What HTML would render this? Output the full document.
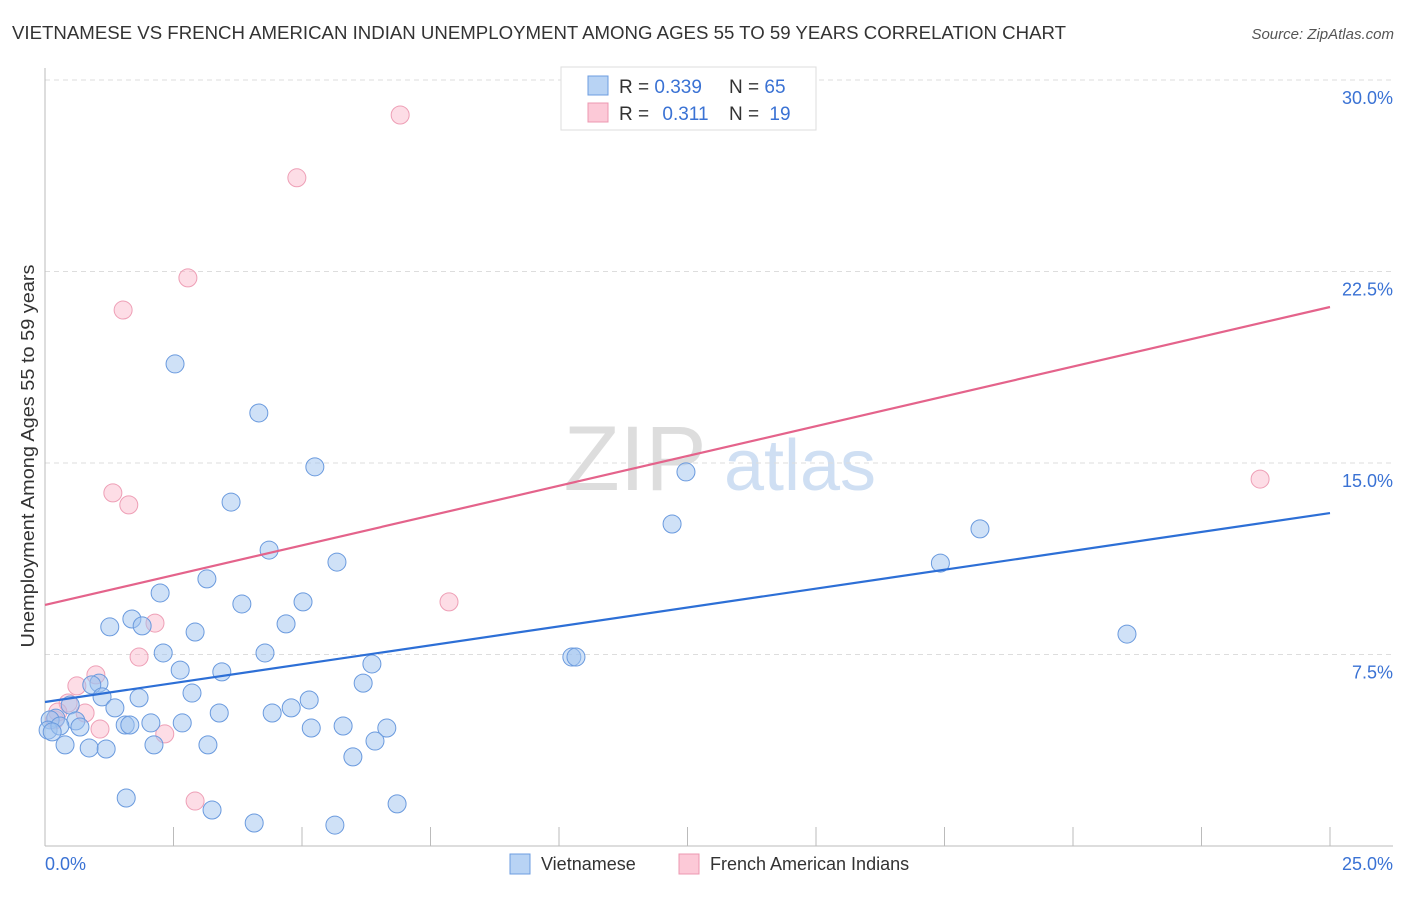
<!DOCTYPE html>
<html><head><meta charset="utf-8"><style>
body{margin:0;background:#fff;font-family:"Liberation Sans",sans-serif;}
svg text{font-family:"Liberation Sans",sans-serif;}
</style></head><body>
<svg id="chart" width="1406" height="892" xmlns="http://www.w3.org/2000/svg">
<text x="12" y="39" font-size="18" fill="#333" textLength="1054" lengthAdjust="spacingAndGlyphs">VIETNAMESE VS FRENCH AMERICAN INDIAN UNEMPLOYMENT AMONG AGES 55 TO 59 YEARS CORRELATION CHART</text>
<text x="1394" y="39" font-size="15" fill="#555" text-anchor="end" font-style="italic">Source: ZipAtlas.com</text>
<text transform="translate(34,456) rotate(-90)" font-size="18" fill="#333" text-anchor="middle" textLength="383" lengthAdjust="spacingAndGlyphs">Unemployment Among Ages 55 to 59 years</text>
<g>
<text x="635" y="490" font-size="92" fill="#ddd" font-family="Liberation Serif" text-anchor="middle">ZIP</text>
<text x="800" y="490" font-size="72" fill="#cfdff3" text-anchor="middle">atlas</text>
</g>
<g id="grid"></g>
<g id="marks"></g>
<g>
<rect x="561" y="67" width="255" height="63" fill="#fff" stroke="#ddd"/>
<rect x="588" y="76" width="20" height="19" fill="#b8d3f4" stroke="#6c9de0"/>
<rect x="588" y="103" width="20" height="19" fill="#fcc9d7" stroke="#ec98b0"/>
<text x="619" y="93" font-size="19" fill="#333">R = <tspan fill="#3a72d4">0.339</tspan></text>
<text x="729" y="93" font-size="19" fill="#333">N = <tspan fill="#3a72d4">65</tspan></text>
<text x="619" y="120" font-size="19" fill="#333">R = <tspan fill="#3a72d4" dx="8">0.311</tspan></text>
<text x="729" y="120" font-size="19" fill="#333">N = <tspan fill="#3a72d4" dx="5">19</tspan></text>
</g>
<g>
<rect x="510" y="854" width="20" height="20" fill="#b8d3f4" stroke="#6c9de0"/>
<text x="541" y="870" font-size="18" fill="#333">Vietnamese</text>
<rect x="679" y="854" width="20" height="20" fill="#fcc9d7" stroke="#ec98b0"/>
<text x="710" y="870" font-size="18" fill="#333">French American Indians</text>
</g>
</svg>
<script>
const yTicks=[7.5,15,22.5,30];
const yTickLabels=["7.5%","15.0%","22.5%","30.0%"];
const xTickCount=10;
const xLabels=["0.0%","25.0%"];
const blueX=[2.53,4.16,5.25,3.62,12.47,12.20,18.19,17.42,21.05,4.36,5.68,3.15,2.24,3.83,5.02,1.69,1.26,1.89,2.92,4.69,4.28,2.30,2.63,3.44,6.36,10.25,10.33,6.19,2.86,1.83,1.05,0.91,1.11,1.36,0.49,0.21,0.60,0.68,1.56,1.65,2.06,2.67,3.39,4.42,4.79,5.14,5.18,5.80,6.65,6.42,5.99,0.39,0.86,1.19,2.12,3.17,1.58,3.25,4.07,5.64,6.85,0.10,0.06,0.29,0.14];
const blueY=[18.88,16.96,14.85,13.47,14.65,12.61,12.42,11.08,8.30,11.59,11.12,10.46,9.91,9.48,9.56,8.89,8.58,8.62,8.38,8.70,7.56,7.56,6.89,6.82,7.13,7.40,7.40,6.38,5.99,5.80,6.38,6.31,5.84,5.41,5.52,5.01,4.90,4.66,4.74,4.74,4.82,4.82,5.21,5.21,5.41,5.72,4.62,4.70,4.62,4.11,3.49,3.96,3.84,3.80,3.96,3.96,1.88,1.41,0.90,0.82,1.65,4.94,4.54,4.70,4.47];
const pinkX=[6.91,4.90,2.78,1.52,1.32,1.63,7.86,2.14,1.83,0.99,0.62,0.45,0.78,1.07,2.33,2.92,23.64,0.19,0.25];
const pinkY=[28.63,26.17,22.25,20.99,13.83,13.36,9.56,8.73,7.40,6.70,6.27,5.60,5.21,4.58,4.39,1.76,14.37,4.94,5.25];
const blueLine=[5.64,13.04];
const pinkLine=[9.44,21.11];
const X0=45,X1=1330,Y0=846,YS=766/30;
const sx=v=>X0+(v/25)*(X1-X0);
const sy=v=>Y0-v*YS;
const NS="http://www.w3.org/2000/svg";
function mk(tag,attrs,parent){const e=document.createElementNS(NS,tag);for(const k in attrs)e.setAttribute(k,attrs[k]);parent.appendChild(e);return e;}
const grid=document.getElementById('grid'),marks=document.getElementById('marks');
yTicks.forEach((t,i)=>{
 const l=mk('line',{x1:X0,x2:1393,y1:sy(t),y2:sy(t),stroke:'#ddd','stroke-dasharray':'5,4'},grid);
 
 
 const tx=mk('text',{x:1393,y:sy(t)+24,'font-size':18,fill:'#3a72d4','text-anchor':'end'},grid);
 tx.textContent=yTickLabels[i];
 
 
});
const ax=mk('line',{x1:X0,x2:X0,y1:68,y2:Y0,stroke:'#bbb'},grid);


const bx=mk('line',{x1:X0,x2:1393,y1:Y0,y2:Y0,stroke:'#bbb'},grid);


for(let i=1;i<=xTickCount;i++){
 const xx=sx(i*25/xTickCount);
 const t=mk('line',{x1:xx,x2:xx,y1:827,y2:Y0,stroke:'#bbb'},grid);
 
 
}
const xl0=mk('text',{x:45,y:870,'font-size':18,fill:'#3a72d4'},grid);xl0.textContent=xLabels[0];


const xl1=mk('text',{x:1393,y:870,'font-size':18,fill:'#3a72d4','text-anchor':'end'},grid);xl1.textContent=xLabels[1];


pinkX.forEach((v,i)=>{
 const c=mk('circle',{cx:sx(v),cy:sy(pinkY[i]),r:9,fill:'rgba(250,180,200,0.45)',stroke:'#ee9fb6','stroke-width':1},marks);
 
 
});
blueX.forEach((v,i)=>{
 const c=mk('circle',{cx:sx(v),cy:sy(blueY[i]),r:9,fill:'rgba(160,196,240,0.5)',stroke:'#6a9ade','stroke-width':1},marks);
 
 
});
const bl=mk('line',{x1:sx(0),y1:sy(blueLine[0]),x2:sx(25),y2:sy(blueLine[1]),stroke:'#2d6fd6','stroke-width':2.2},marks);


const pl=mk('line',{x1:sx(0),y1:sy(pinkLine[0]),x2:sx(25),y2:sy(pinkLine[1]),stroke:'#e4638b','stroke-width':2.2},marks);


</script>
</body></html>
